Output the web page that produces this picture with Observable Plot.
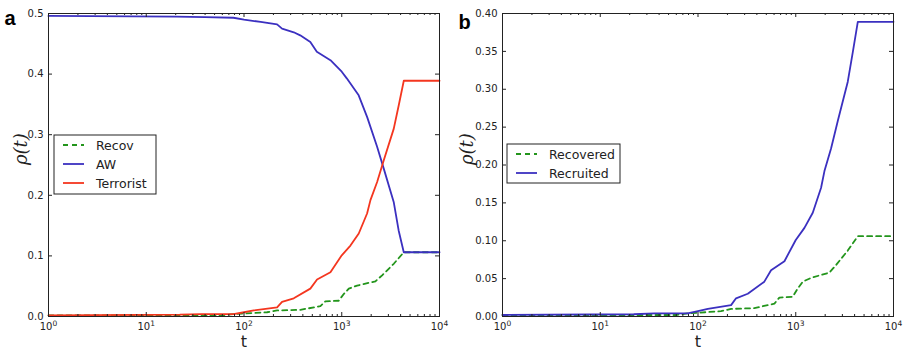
<!DOCTYPE html>
<html><head><meta charset="utf-8">
<script src="https://cdn.jsdelivr.net/npm/d3@7"></script>
<script src="https://cdn.jsdelivr.net/npm/@observablehq/plot@0.6"></script>
<style>
body{margin:0;background:#fff;}
#wrap{display:flex;width:908px;height:350px;}
</style></head><body><div id="wrap"></div>
<script>
// ---- data ----
const xTicks = [1, 10, 100, 1000, 10000];
const yTicksA = [0, 0.1, 0.2, 0.3, 0.4, 0.5];
const yTicksB = [0, 0.05, 0.10, 0.15, 0.20, 0.25, 0.30, 0.35, 0.40];

const awT = [1, 20, 40, 78, 100, 148, 218, 245, 323, 376, 477, 556, 766, 1000, 1125, 1490, 1820, 2300, 2690, 3400, 3820, 4310, 10000];
const awV = [0.496, 0.495, 0.494, 0.493, 0.490, 0.486, 0.482, 0.475, 0.469, 0.464, 0.453, 0.437, 0.423, 0.404, 0.393, 0.365, 0.329, 0.280, 0.244, 0.189, 0.142, 0.106, 0.106];

const terrT = [1, 22, 36, 78, 100, 126, 218, 245, 323, 477, 559, 766, 1000, 1227, 1493, 1816, 1966, 2301, 2691, 3406, 3834, 4313, 10000];
const terrV = [0.002, 0.003, 0.004, 0.004, 0.007, 0.010, 0.015, 0.024, 0.030, 0.046, 0.061, 0.073, 0.101, 0.117, 0.137, 0.170, 0.192, 0.222, 0.258, 0.310, 0.349, 0.389, 0.389];

const recT = [1, 60, 78, 100, 172, 218, 377, 605, 680, 931, 1048, 1180, 1435, 2212, 2588, 3406, 4313, 10000];
const recV = [0.002, 0.002, 0.004, 0.005, 0.007, 0.010, 0.011, 0.017, 0.025, 0.026, 0.037, 0.046, 0.051, 0.058, 0.068, 0.087, 0.106, 0.106];

const namesA = ["Recov", "AW", "Terrorist"];
const namesB = ["Recovered", "Recruited"];

const GREEN = "#23951c", BLUE = "#3b30c0", RED = "#f4361f";

const zip = (T, V) => T.map((t, i) => ({t, v: V[i]}));

function panel({letter, letterDy, yDomain, yTicks, yFmt, ylabDx, series, legend}) {
  const W = 454, H = 350, mt = 13, mb = 34, ml = 48, mr = 15;
  const ph = H - mt - mb, pw = W - ml - mr;
  const minor = [];
  for (let k = 0; k < 4; k++) for (let m = 2; m < 10; m++) minor.push(m * Math.pow(10, k));
  const ink = "#222";
  const chart = Plot.plot({
    width: W, height: H, marginTop: mt, marginBottom: mb, marginLeft: ml, marginRight: mr,
    style: {fontFamily: "DejaVu Sans", fontSize: "10px", color: ink, background: "#fff"},
    x: {type: "log", domain: [1, 1e4]},
    y: {domain: yDomain},
    marks: [
      Plot.axisX(xTicks, {tickSize: 0, tickPadding: 6, label: null,
        tickFormat: d => "10^" + Math.round(Math.log10(d))}),
      Plot.axisY(yTicks, {tickSize: 0, tickPadding: 5, label: null, tickFormat: yFmt}),
      ...series.map(s => Plot.line(zip(s.T, s.V), {x: "t", y: "v", stroke: s.color,
        strokeWidth: 1.8, strokeDasharray: s.dash || null})),
      Plot.ruleX(xTicks, {insetTop: ph - 4, stroke: ink}),
      Plot.ruleX(xTicks, {insetBottom: ph - 4, stroke: ink}),
      Plot.ruleX(minor, {insetTop: ph - 2, stroke: ink}),
      Plot.ruleX(minor, {insetBottom: ph - 2, stroke: ink}),
      Plot.ruleY(yTicks, {insetRight: pw - 4, stroke: ink}),
      Plot.ruleY(yTicks, {insetLeft: pw - 4, stroke: ink}),
      Plot.frame({stroke: ink}),
      Plot.text(["ρ(t)"], {frameAnchor: "left", dx: ylabDx, rotate: -90, fontSize: 18,
        fontStyle: "italic", fontFamily: "DejaVu Serif", fill: ink}),
      Plot.text(["t"], {frameAnchor: "bottom", dy: 30, fontSize: 16, fill: ink}),
      Plot.text([letter], {frameAnchor: "top-left", dx: -44, dy: letterDy, textAnchor: "start",
        fontSize: 20, fontWeight: "bold", fontFamily: "Liberation Sans", fill: "#000"})
    ]
  });
  // superscripts on log tick labels
  d3.select(chart).selectAll('g[aria-label="x-axis tick label"] text').each(function () {
    const [b, e] = this.textContent.split("^");
    const t = d3.select(this);
    t.text(b);
    t.append("tspan").attr("dy", "-0.5em").attr("font-size", "7.5px").text(e);
  });
  // legend
  const g = d3.select(chart).append("g").attr("font-family", "DejaVu Sans").attr("font-size", "12.5px")
    .attr("text-anchor", "start");
  g.append("rect").attr("x", legend.x).attr("y", legend.y).attr("width", legend.w).attr("height", legend.h)
    .attr("fill", "#fff").attr("stroke", ink).attr("stroke-width", 1);
  series.forEach((s, i) => {
    const yy = legend.y + legend.first + i * legend.step;
    g.append("line").attr("x1", legend.x + 9).attr("x2", legend.x + 30).attr("y1", yy).attr("y2", yy)
      .attr("stroke", s.color).attr("stroke-width", 1.8).attr("stroke-dasharray", s.dash || null);
    g.append("text").attr("x", legend.x + 42).attr("y", yy).attr("dy", "0.36em")
      .attr("text-anchor", "start").attr("fill", ink).text(s.name);
  });
  return chart;
}

const wrap = document.getElementById("wrap");
wrap.appendChild(panel({
  letter: "a", letterDy: -3, yDomain: [0, 0.5], yTicks: yTicksA, yFmt: d3.format(".1f"), ylabDx: -27,
  series: [
    {name: namesA[0], T: recT, V: recV, color: GREEN, dash: "5,4"},
    {name: namesA[1], T: awT, V: awV, color: BLUE},
    {name: namesA[2], T: terrT, V: terrV, color: RED}
  ],
  legend: {x: 54, y: 135, w: 102, h: 59, first: 10, step: 19}
}));
wrap.appendChild(panel({
  letter: "b", letterDy: 1, yDomain: [0, 0.4], yTicks: yTicksB, yFmt: d3.format(".2f"), ylabDx: -35,
  series: [
    {name: namesB[0], T: recT, V: recV, color: GREEN, dash: "5,4"},
    {name: namesB[1], T: terrT, V: terrV, color: BLUE}
  ],
  legend: {x: 53, y: 144, w: 113, h: 39, first: 10, step: 19}
}));
</script></body></html>
